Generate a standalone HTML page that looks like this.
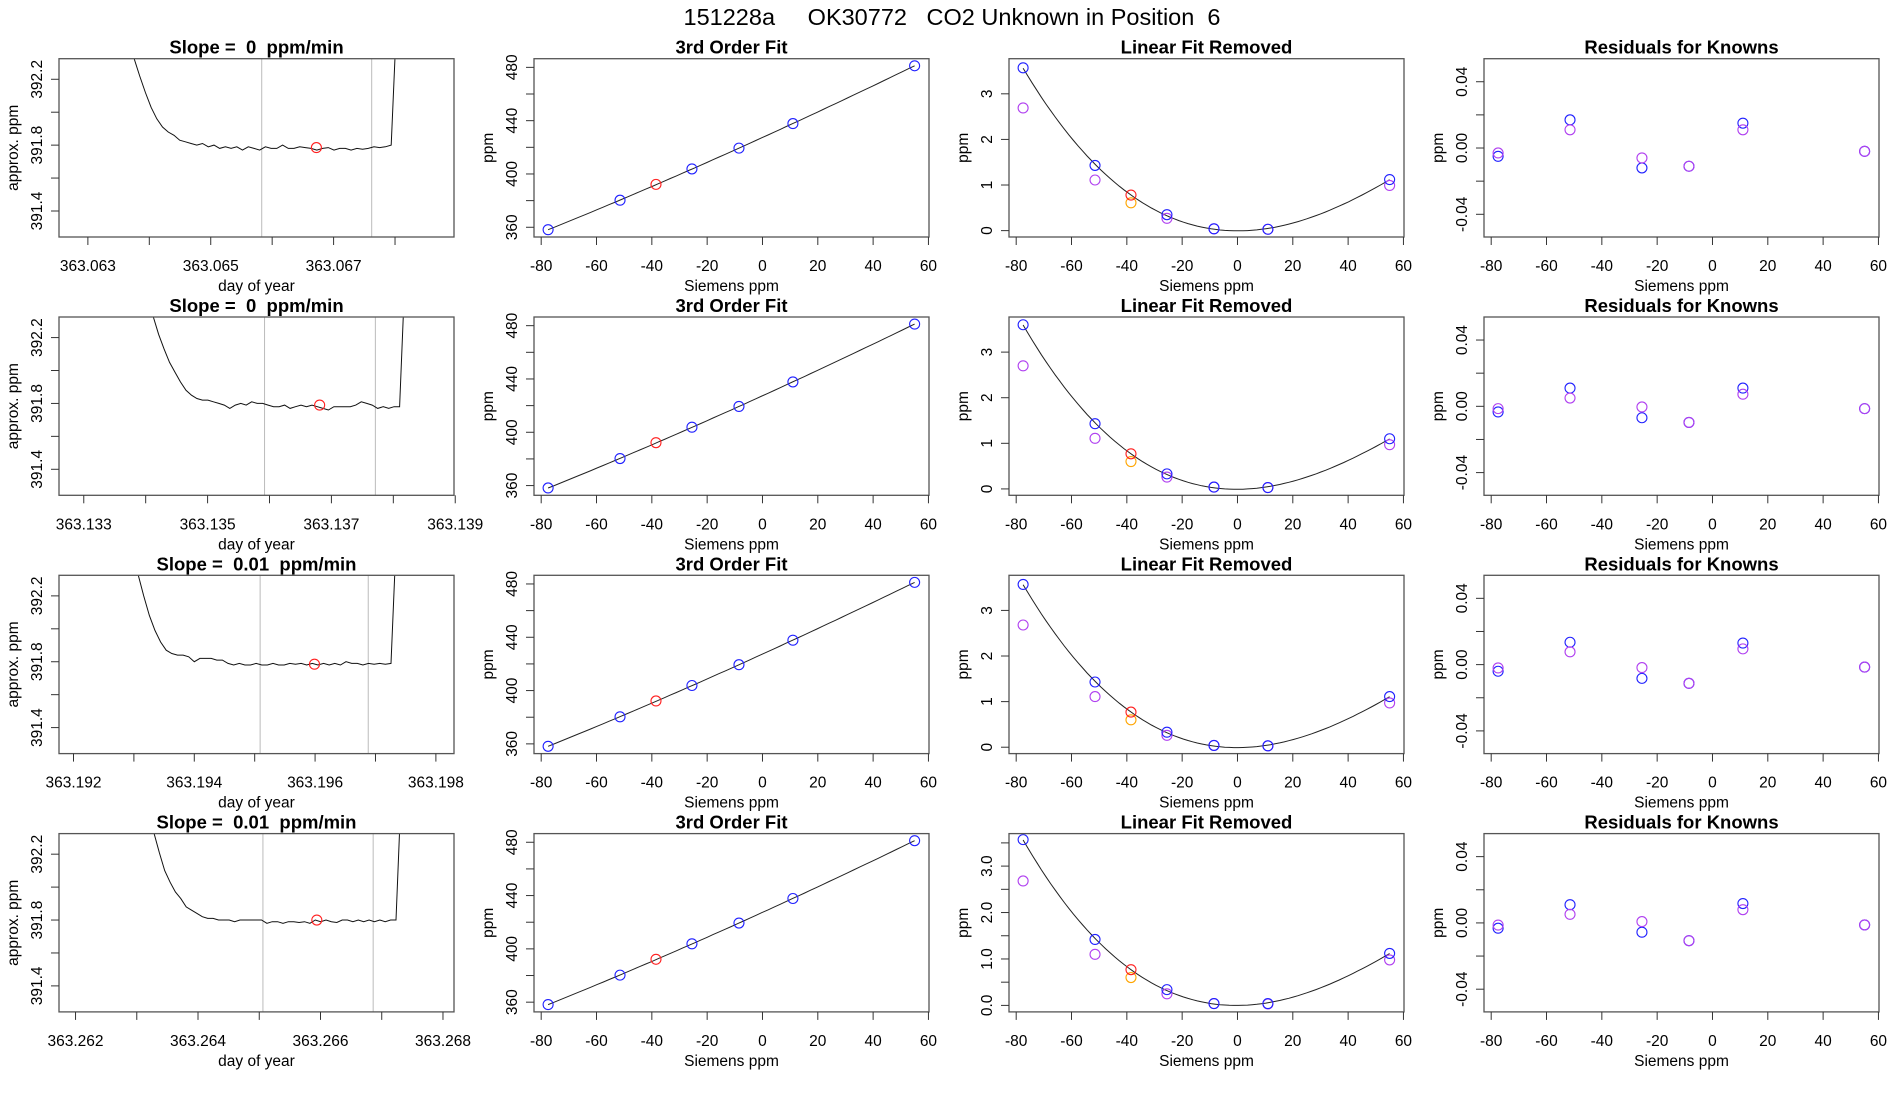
<!DOCTYPE html>
<html><head><meta charset="utf-8">
<style>
html,body{margin:0;padding:0;background:#fff;}
svg{display:block;font-family:"Liberation Sans",sans-serif;}
text{white-space:pre;}
</style></head>
<body>
<svg id="fig" width="1900" height="1100" viewBox="0 0 1900 1100" xmlns="http://www.w3.org/2000/svg">
<text x="952" y="25" font-size="23.5" text-anchor="middle" xml:space="preserve">151228a     OK30772   CO2 Unknown in Position  6</text>
</svg>
<script>
// ---------- data ----------
const knownX = [-77.5, -51.5, -25.5, -8.5, 11, 55];
const unknownX = -38.5;
const rowTitles = ["Slope =  0  ppm/min","Slope =  0  ppm/min","Slope =  0.01  ppm/min","Slope =  0.01  ppm/min"];
// day-of-year panels
const timeDomains = [[363.06253,363.06896],[363.13260,363.13898],[363.19176,363.19830],[363.26173,363.26818]];
const timeTicks = [
 [363.063,363.064,363.065,363.066,363.067,363.068],
 [363.133,363.134,363.135,363.136,363.137,363.138,363.139],
 [363.192,363.193,363.194,363.195,363.196,363.197,363.198],
 [363.262,363.263,363.264,363.265,363.266,363.267,363.268]];
const timeTickLabels = [
 ["363.063","","363.065","","363.067",""],
 ["363.133","","363.135","","363.137","","363.139"],
 ["363.192","","363.194","","363.196","","363.198"],
 ["363.262","","363.264","","363.266","","363.268"]];
const traceStart = [363.06375, 363.13412, 363.19307, 363.26328];
const traceEnd = [363.06803, 363.13819, 363.19735, 363.26732];
const trace1 = [392.33,392.22,392.12,392.03,391.96,391.91,391.88,391.86,391.83,391.82,391.81,391.80,391.81,391.79,391.80,391.78,391.79,391.78,391.79,391.77,391.79,391.78,391.77,391.79,391.78,391.78,391.80,391.78,391.78,391.79,391.785,391.78,391.77,391.78,391.785,391.77,391.78,391.78,391.77,391.78,391.775,391.78,391.79,391.785,391.79,391.80,392.60];
const trace2 = [392.33,392.22,392.13,392.05,391.99,391.93,391.88,391.85,391.83,391.82,391.82,391.81,391.80,391.79,391.77,391.79,391.80,391.79,391.81,391.80,391.80,391.79,391.78,391.78,391.79,391.77,391.78,391.79,391.78,391.79,391.78,391.77,391.76,391.78,391.78,391.78,391.78,391.79,391.81,391.80,391.79,391.77,391.78,391.77,391.78,391.78,392.60];
const trace3 = [392.33,392.20,392.08,391.99,391.92,391.87,391.85,391.84,391.84,391.83,391.80,391.82,391.82,391.82,391.81,391.81,391.79,391.78,391.79,391.78,391.78,391.79,391.78,391.78,391.79,391.78,391.78,391.79,391.785,391.79,391.78,391.79,391.78,391.79,391.78,391.79,391.78,391.80,391.79,391.79,391.78,391.79,391.785,391.79,391.785,391.79,392.60];
const trace4 = [392.33,392.21,392.10,392.03,391.97,391.93,391.88,391.86,391.84,391.82,391.81,391.81,391.80,391.80,391.80,391.79,391.80,391.80,391.80,391.80,391.80,391.78,391.79,391.79,391.78,391.79,391.79,391.785,391.79,391.78,391.80,391.79,391.80,391.79,391.785,391.80,391.80,391.79,391.80,391.79,391.80,391.79,391.80,391.79,391.80,391.80,392.60];
const traces = [trace1, trace2, trace3, trace4];
const windowStart = [363.06583, 363.13592, 363.19509, 363.26506];
const windowEnd = [363.06762, 363.13771, 363.19688, 363.26686];
const markTime = [363.06672, 363.13681, 363.19599, 363.26594];
const markValue = [391.785, 391.79, 391.785, 391.80];
const ppmTicks = [391.4,391.6,391.8,392.0,392.2];
const ppmTickLabels = ["391.4","","391.8","","392.2"];
// 3rd order fit panels
const fitKnownY = [
 [358.2,380.3,403.8,419.4,437.8,481.2],
 [358.2,380.3,403.8,419.4,437.8,481.2],
 [358.2,380.3,403.8,419.4,437.8,481.2],
 [358.2,380.3,403.8,419.4,437.8,481.2]];
const fitUnknownY = [392.2, 392.2, 392.2, 392.2];
const fitYTicks = [360,380,400,420,440,460,480];
const fitYTickLabels = ["360","","400","","440","","480"];
// linear fit removed panels
const linBlue = [
 [3.57,1.43,0.35,0.04,0.03,1.12],
 [3.60,1.43,0.33,0.04,0.03,1.10],
 [3.57,1.43,0.33,0.04,0.03,1.11],
 [3.57,1.42,0.34,0.04,0.04,1.12]];
const linPurple = [
 [2.69,1.11,0.27,0.04,0.03,0.99],
 [2.70,1.11,0.26,0.04,0.03,0.97],
 [2.68,1.11,0.26,0.04,0.03,0.97],
 [2.68,1.10,0.25,0.04,0.03,0.98]];
const linUnknownRed = [0.78, 0.77, 0.77, 0.77];
const linUnknownOrange = [0.61, 0.60, 0.60, 0.60];
const linYTicks = [[0,1,2,3],[0,1,2,3],[0,1,2,3],[0,0.5,1,1.5,2,2.5,3,3.5]];
const linYTickLabels = [["0","1","2","3"],["0","1","2","3"],["0","1","2","3"],["0.0","","1.0","","2.0","","3.0",""]];
// residual panels
const resBlue = [
 [-0.005,0.017,-0.012,-0.011,0.015,-0.002],
 [-0.0034,0.011,-0.0069,-0.0097,0.011,-0.0014],
 [-0.004,0.0135,-0.0083,-0.0113,0.013,-0.0015],
 [-0.0032,0.011,-0.0056,-0.0107,0.0117,-0.0012]];
const resPurple = [
 [-0.003,0.011,-0.006,-0.011,0.011,-0.002],
 [-0.0014,0.005,-0.0004,-0.0097,0.0073,-0.0014],
 [-0.002,0.0077,-0.0018,-0.0113,0.0095,-0.0015],
 [-0.0013,0.0052,0.0008,-0.0107,0.008,-0.0012]];
const resYTicks = [-0.04,-0.02,0,0.02,0.04];
const resYTickLabels = ["-0.04","","0.00","","0.04"];
const sieTicks = [-80,-60,-40,-20,0,20,40,60];
const sieTickLabels = ["-80","-60","-40","-20","0","20","40","60"];

// ---------- drawing ----------
const NS = "http://www.w3.org/2000/svg";
const svg = document.getElementById("fig");
const ROW0 = 58.7, ROWSTEP = 258.3, BOXH = 178.3, COL0 = 59, COLSTEP = 475, BOXW = 395;
const SIE_DOM = [-82.6, 60.2];
function mk(tag, attrs, parent){
  const e = document.createElementNS(NS, tag);
  for (const k in attrs) e.setAttribute(k, attrs[k]);
  (parent||svg).appendChild(e);
  return e;
}
function scale(d, r){ return v => r[0] + (v - d[0]) / (d[1] - d[0]) * (r[1] - r[0]); }

function cubicFit(xs, ys){
  const n = 4, A = [], b = [];
  for (let i=0;i<n;i++){ A.push([0,0,0,0]); b.push(0); }
  xs.forEach((x0,k)=>{ const x=x0/100; const p=[1,x,x*x,x*x*x];
    for(let i=0;i<n;i++){ b[i]+=p[i]*ys[k]; for(let j=0;j<n;j++) A[i][j]+=p[i]*p[j]; } });
  for(let i=0;i<n;i++){ let m=i; for(let r=i+1;r<n;r++) if(Math.abs(A[r][i])>Math.abs(A[m][i])) m=r;
    [A[i],A[m]]=[A[m],A[i]]; [b[i],b[m]]=[b[m],b[i]];
    for(let r=i+1;r<n;r++){ const f=A[r][i]/A[i][i]; for(let j=i;j<n;j++) A[r][j]-=f*A[i][j]; b[r]-=f*b[i]; } }
  const c=[0,0,0,0];
  for(let i=n-1;i>=0;i--){ let s=b[i]; for(let j=i+1;j<n;j++) s-=A[i][j]*c[j]; c[i]=s/A[i][i]; }
  return x0 => { const x=x0/100; return c[0]+c[1]*x+c[2]*x*x+c[3]*x*x*x; };
}

function panel(o){
  const g = mk("g", {});
  
  
  const L=o.x, T=o.y, R=o.x+BOXW, B=o.y+BOXH;
  const sx = scale(o.xdom, [L, R]), sy = scale(o.ydom, [B, T]);
  const clipId = "clip-" + o.name;
  const cp = mk("clipPath", {id: clipId}, g);
  mk("rect", {x:L, y:T, width:BOXW, height:BOXH}, cp);
  const plot = mk("g", {"clip-path":"url(#"+clipId+")"}, g);
  
  
  const t = mk("text", {x:(L+R)/2, y:T-5, "font-size":18.5, "font-weight":"bold", "text-anchor":"middle"}, g);
  
  
  t.textContent = o.title;
  const box = mk("rect", {x:L, y:T, width:BOXW, height:BOXH, fill:"none", stroke:"#555", "stroke-width":1.3}, g);
  
  
  const xa = mk("g", {}, g);
  
  
  o.xticks.forEach((v,i)=>{
    const X = sx(v);
    mk("line", {x1:X, x2:X, y1:B, y2:B+8, stroke:"#333", "stroke-width":1}, xa);
    if (o.xlabels[i]) {
      const tl = mk("text", {x:X, y:B+34, "font-size":15.5, "text-anchor":"middle"}, xa);
      
      
      tl.textContent = o.xlabels[i];
    }
  });
  const xl = mk("text", {x:(L+R)/2, y:B+54, "font-size":15.5, "text-anchor":"middle"}, g);
  
  
  xl.textContent = o.xlab;
  const ya = mk("g", {}, g);
  
  
  o.yticks.forEach((v,i)=>{
    const Y = sy(v);
    mk("line", {x1:L-8, x2:L, y1:Y, y2:Y, stroke:"#333", "stroke-width":1}, ya);
    if (o.ylabels[i]) {
      const tl = mk("text", {x:L-22, y:Y, "font-size":15.5, "text-anchor":"middle", transform:"rotate(-90 "+(L-22)+" "+Y+")", dy:"5"}, ya);
      
      
      tl.textContent = o.ylabels[i];
    }
  });
  const yl = mk("text", {x:L-46, y:(T+B)/2, "font-size":15.5, "text-anchor":"middle", transform:"rotate(-90 "+(L-46)+" "+((T+B)/2)+")", dy:"5"}, g);
  
  
  yl.textContent = o.ylab;
  return {g: plot, sx, sy};
}
function circ(parent, x, y, color, name){
  const c = mk("circle", {cx:x, cy:y, r:5, fill:"none", stroke:color, "stroke-width":1.1}, parent);
  
  
}

for (let r=0;r<4;r++){
  const top = ROW0 + r*ROWSTEP;
  let p = panel({name:"timeseries-row"+(r+1), x:COL0, y:top, xdom:timeDomains[r], ydom:[391.242,392.325],
    xticks:timeTicks[r], xlabels:timeTickLabels[r], yticks:ppmTicks, ylabels:ppmTickLabels,
    title:rowTitles[r], xlab:"day of year", ylab:"approx. ppm"});
  [windowStart[r], windowEnd[r]].forEach(t=>{
    const X = p.sx(t);
    const ln = mk("line", {x1:X, x2:X, y1:top, y2:top+BOXH, stroke:"#bbb", "stroke-width":1}, p.g);
    
    
  });
  const vals = traces[r], n = vals.length;
  const pts = vals.map((v,i)=>{ const t = traceStart[r] + (traceEnd[r]-traceStart[r])*i/(n-1); return p.sx(t).toFixed(1)+","+p.sy(v).toFixed(1); }).join(" ");
  const pl = mk("polyline", {points:pts, fill:"none", stroke:"#111", "stroke-width":1}, p.g);
  
  
  circ(p.g, p.sx(markTime[r]), p.sy(markValue[r]), "#ff2020", "mean-marker");

  p = panel({name:"third-order-fit-row"+(r+1), x:COL0+COLSTEP, y:top, xdom:SIE_DOM, ydom:[352.7,486.5],
    xticks:sieTicks, xlabels:sieTickLabels, yticks:fitYTicks, ylabels:fitYTickLabels,
    title:"3rd Order Fit", xlab:"Siemens ppm", ylab:"ppm"});
  let f = cubicFit(knownX, fitKnownY[r]);
  let cp = [];
  for (let k=0;k<=60;k++){ const x = knownX[0] + (knownX[5]-knownX[0])*k/60; cp.push(p.sx(x).toFixed(1)+","+p.sy(f(x)).toFixed(1)); }
  let cl = mk("polyline", {points:cp.join(" "), fill:"none", stroke:"#222", "stroke-width":1}, p.g);
  
  
  knownX.forEach((x,i)=>circ(p.g, p.sx(x), p.sy(fitKnownY[r][i]), "#2020ff", "known-point"));
  circ(p.g, p.sx(unknownX), p.sy(fitUnknownY[r]), "#ff2020", "unknown-point");

  p = panel({name:"linear-fit-removed-row"+(r+1), x:COL0+2*COLSTEP, y:top, xdom:SIE_DOM, ydom:(r===3?[-0.14,3.70]:[-0.14,3.77]),
    xticks:sieTicks, xlabels:sieTickLabels, yticks:linYTicks[r], ylabels:linYTickLabels[r],
    title:"Linear Fit Removed", xlab:"Siemens ppm", ylab:"ppm"});
  f = cubicFit(knownX, linBlue[r]);
  cp = [];
  for (let k=0;k<=80;k++){ const x = knownX[0] + (knownX[5]-knownX[0])*k/80; cp.push(p.sx(x).toFixed(1)+","+p.sy(f(x)).toFixed(1)); }
  cl = mk("polyline", {points:cp.join(" "), fill:"none", stroke:"#222", "stroke-width":1}, p.g);
  
  
  knownX.forEach((x,i)=>circ(p.g, p.sx(x), p.sy(linPurple[r][i]), "#b040f0", "known-point-alt"));
  knownX.forEach((x,i)=>circ(p.g, p.sx(x), p.sy(linBlue[r][i]), "#2020ff", "known-point"));
  circ(p.g, p.sx(unknownX), p.sy(linUnknownOrange[r]), "#ffa500", "unknown-point-alt");
  circ(p.g, p.sx(unknownX), p.sy(linUnknownRed[r]), "#ff2020", "unknown-point");

  p = panel({name:"residuals-row"+(r+1), x:COL0+3*COLSTEP, y:top, xdom:SIE_DOM, ydom:[-0.0537,0.0539],
    xticks:sieTicks, xlabels:sieTickLabels, yticks:resYTicks, ylabels:resYTickLabels,
    title:"Residuals for Knowns", xlab:"Siemens ppm", ylab:"ppm"});
  knownX.forEach((x,i)=>circ(p.g, p.sx(x), p.sy(resBlue[r][i]), "#2020ff", "residual-point"));
  knownX.forEach((x,i)=>circ(p.g, p.sx(x), p.sy(resPurple[r][i]), "#b040f0", "residual-point-alt"));
}
</script>
</body></html>
